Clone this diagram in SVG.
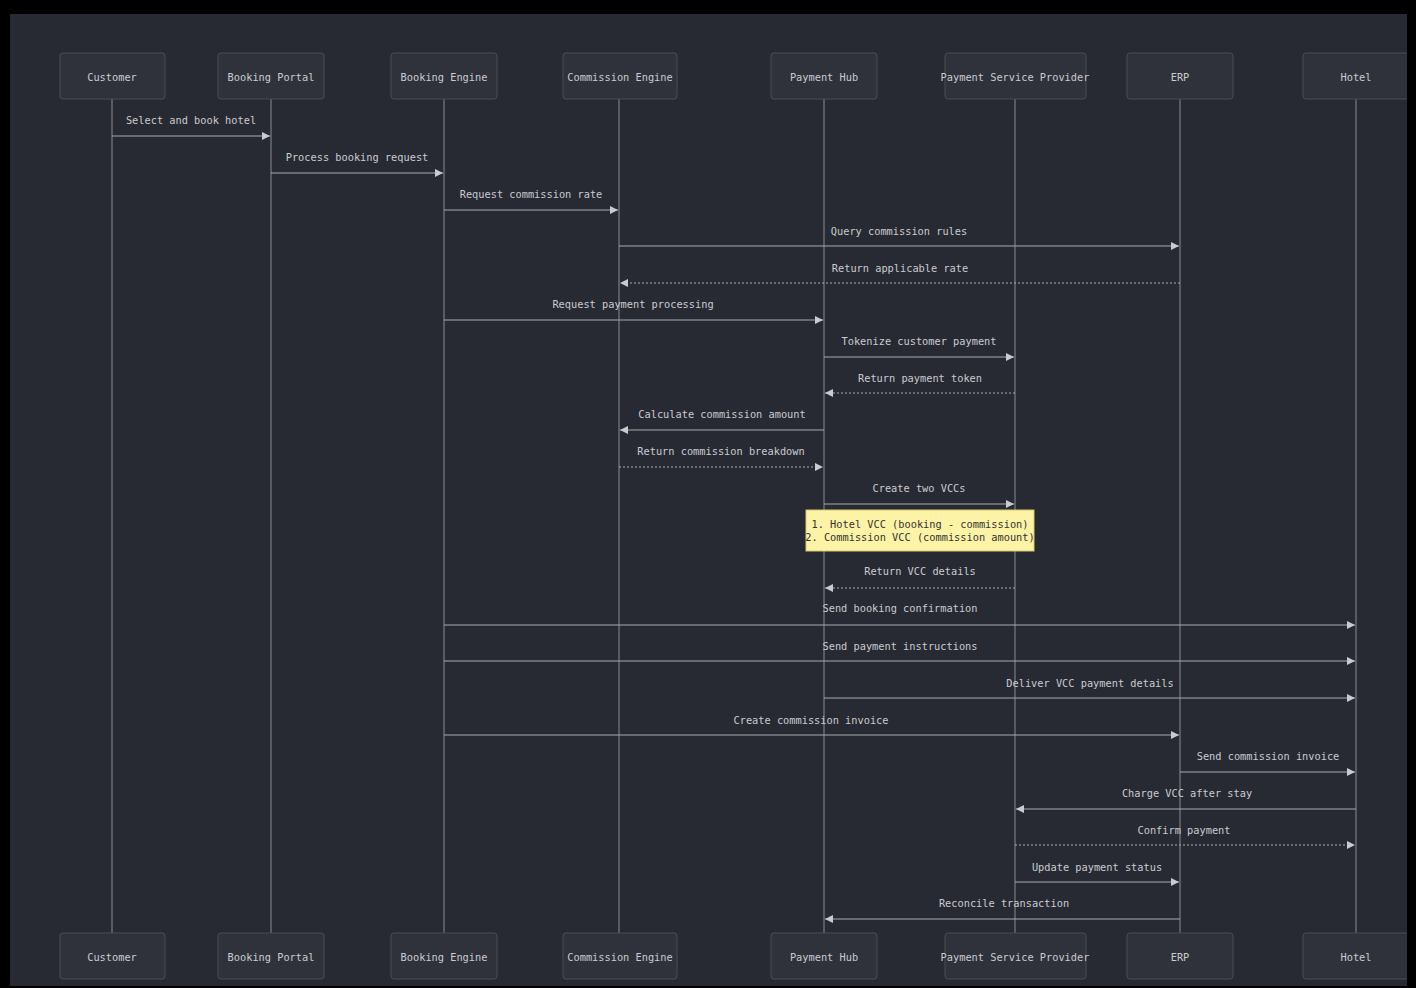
<svg xmlns="http://www.w3.org/2000/svg" width="1416" height="988" viewBox="0 0 1416 988">
<style>
.box{fill:#30323b;stroke:#4a4c55;stroke-width:1}
.lbl{font-family:"DejaVu Sans Mono","Liberation Mono",monospace;font-size:10.3px;fill:#c9cbd1;text-anchor:middle;dominant-baseline:central}
.life{stroke:#8a8c94;stroke-width:1}
.msg{stroke:#a8aab0;stroke-width:1.2;fill:none;marker-end:url(#ah)}
.dash{stroke-dasharray:2,2}
.mt{font-family:"DejaVu Sans Mono","Liberation Mono",monospace;font-size:10.3px;fill:#c9cbd1;text-anchor:middle}
.note{fill:#fdf3a6;stroke:#d8c86a;stroke-width:1}
.nt{font-family:"DejaVu Sans Mono","Liberation Mono",monospace;font-size:10.3px;fill:#333;text-anchor:middle}
</style>
<defs>
<marker id="ah" viewBox="0 0 10 10" refX="10" refY="5" markerWidth="8" markerHeight="8" markerUnits="userSpaceOnUse" orient="auto">
<path d="M0,0 L10,5 L0,10 z" fill="#c9cbd1"/>
</marker>
</defs>
<rect x="0" y="0" width="1416" height="988" fill="#000"/>
<rect x="10" y="14" width="1397" height="972" fill="#282a33"/>
<g id="lifelines">
<line class="life" x1="112" y1="99" x2="112" y2="933"/>
<line class="life" x1="271" y1="99" x2="271" y2="933"/>
<line class="life" x1="444" y1="99" x2="444" y2="933"/>
<line class="life" x1="619" y1="99" x2="619" y2="933"/>
<line class="life" x1="824" y1="99" x2="824" y2="933"/>
<line class="life" x1="1015" y1="99" x2="1015" y2="933"/>
<line class="life" x1="1180" y1="99" x2="1180" y2="933"/>
<line class="life" x1="1356" y1="99" x2="1356" y2="933"/>
</g>
<g id="customer"><rect class="box" x="60" y="53" width="105" height="46" rx="3"/><text class="lbl" x="112" y="77">Customer</text><rect class="box" x="60" y="933" width="105" height="46" rx="3"/><text class="lbl" x="112" y="957">Customer</text></g>
<g id="booking-portal"><rect class="box" x="218" y="53" width="106" height="46" rx="3"/><text class="lbl" x="271" y="77">Booking Portal</text><rect class="box" x="218" y="933" width="106" height="46" rx="3"/><text class="lbl" x="271" y="957">Booking Portal</text></g>
<g id="booking-engine"><rect class="box" x="391" y="53" width="106" height="46" rx="3"/><text class="lbl" x="444" y="77">Booking Engine</text><rect class="box" x="391" y="933" width="106" height="46" rx="3"/><text class="lbl" x="444" y="957">Booking Engine</text></g>
<g id="commission-engine"><rect class="box" x="563" y="53" width="114" height="46" rx="3"/><text class="lbl" x="620" y="77">Commission Engine</text><rect class="box" x="563" y="933" width="114" height="46" rx="3"/><text class="lbl" x="620" y="957">Commission Engine</text></g>
<g id="payment-hub"><rect class="box" x="771" y="53" width="106" height="46" rx="3"/><text class="lbl" x="824" y="77">Payment Hub</text><rect class="box" x="771" y="933" width="106" height="46" rx="3"/><text class="lbl" x="824" y="957">Payment Hub</text></g>
<g id="psp"><rect class="box" x="945" y="53" width="141" height="46" rx="3"/><text class="lbl" x="1015" y="77">Payment Service Provider</text><rect class="box" x="945" y="933" width="141" height="46" rx="3"/><text class="lbl" x="1015" y="957">Payment Service Provider</text></g>
<g id="erp"><rect class="box" x="1127" y="53" width="106" height="46" rx="3"/><text class="lbl" x="1180" y="77">ERP</text><rect class="box" x="1127" y="933" width="106" height="46" rx="3"/><text class="lbl" x="1180" y="957">ERP</text></g>
<g id="hotel"><rect class="box" x="1303" y="53" width="106" height="46" rx="3"/><text class="lbl" x="1356" y="77">Hotel</text><rect class="box" x="1303" y="933" width="106" height="46" rx="3"/><text class="lbl" x="1356" y="957">Hotel</text></g>
<rect x="1407" y="14" width="9" height="974" fill="#000"/>
<g id="connectors">
<line class="msg" x1="112" y1="136" x2="270" y2="136"/><text class="mt" x="191" y="124">Select and book hotel</text>
<line class="msg" x1="271" y1="173" x2="443" y2="173"/><text class="mt" x="357" y="161">Process booking request</text>
<line class="msg" x1="444" y1="210" x2="618" y2="210"/><text class="mt" x="531" y="198">Request commission rate</text>
<line class="msg" x1="619" y1="246" x2="1179" y2="246"/><text class="mt" x="899" y="235">Query commission rules</text>
<line class="msg dash" x1="1180" y1="283" x2="620" y2="283"/><text class="mt" x="900" y="272">Return applicable rate</text>
<line class="msg" x1="444" y1="320" x2="823" y2="320"/><text class="mt" x="633" y="308">Request payment processing</text>
<line class="msg" x1="824" y1="357" x2="1014" y2="357"/><text class="mt" x="919" y="345">Tokenize customer payment</text>
<line class="msg dash" x1="1015" y1="393" x2="825" y2="393"/><text class="mt" x="920" y="382">Return payment token</text>
<line class="msg" x1="824" y1="430" x2="620" y2="430"/><text class="mt" x="722" y="418">Calculate commission amount</text>
<line class="msg dash" x1="619" y1="467" x2="823" y2="467"/><text class="mt" x="721" y="455">Return commission breakdown</text>
<line class="msg" x1="824" y1="504" x2="1014" y2="504"/><text class="mt" x="919" y="492">Create two VCCs</text>
<line class="msg dash" x1="1015" y1="588" x2="825" y2="588"/><text class="mt" x="920" y="575">Return VCC details</text>
<line class="msg" x1="444" y1="625" x2="1355" y2="625"/><text class="mt" x="900" y="612">Send booking confirmation</text>
<line class="msg" x1="444" y1="661" x2="1355" y2="661"/><text class="mt" x="900" y="650">Send payment instructions</text>
<line class="msg" x1="824" y1="698" x2="1355" y2="698"/><text class="mt" x="1090" y="687">Deliver VCC payment details</text>
<line class="msg" x1="444" y1="735" x2="1179" y2="735"/><text class="mt" x="811" y="724">Create commission invoice</text>
<line class="msg" x1="1180" y1="772" x2="1355" y2="772"/><text class="mt" x="1268" y="760">Send commission invoice</text>
<line class="msg" x1="1356" y1="809" x2="1016" y2="809"/><text class="mt" x="1187" y="797">Charge VCC after stay</text>
<line class="msg dash" x1="1015" y1="845" x2="1355" y2="845"/><text class="mt" x="1184" y="834">Confirm payment</text>
<line class="msg" x1="1015" y1="882" x2="1179" y2="882"/><text class="mt" x="1097" y="871">Update payment status</text>
<line class="msg" x1="1180" y1="919" x2="825" y2="919"/><text class="mt" x="1004" y="907">Reconcile transaction</text>
</g>
<g id="note">
<rect class="note" x="806" y="510" width="228" height="41"/>
<text class="nt" x="920" y="528">1. Hotel VCC (booking - commission)</text>
<text class="nt" x="920" y="541">2. Commission VCC (commission amount)</text>
</g>
</svg>
